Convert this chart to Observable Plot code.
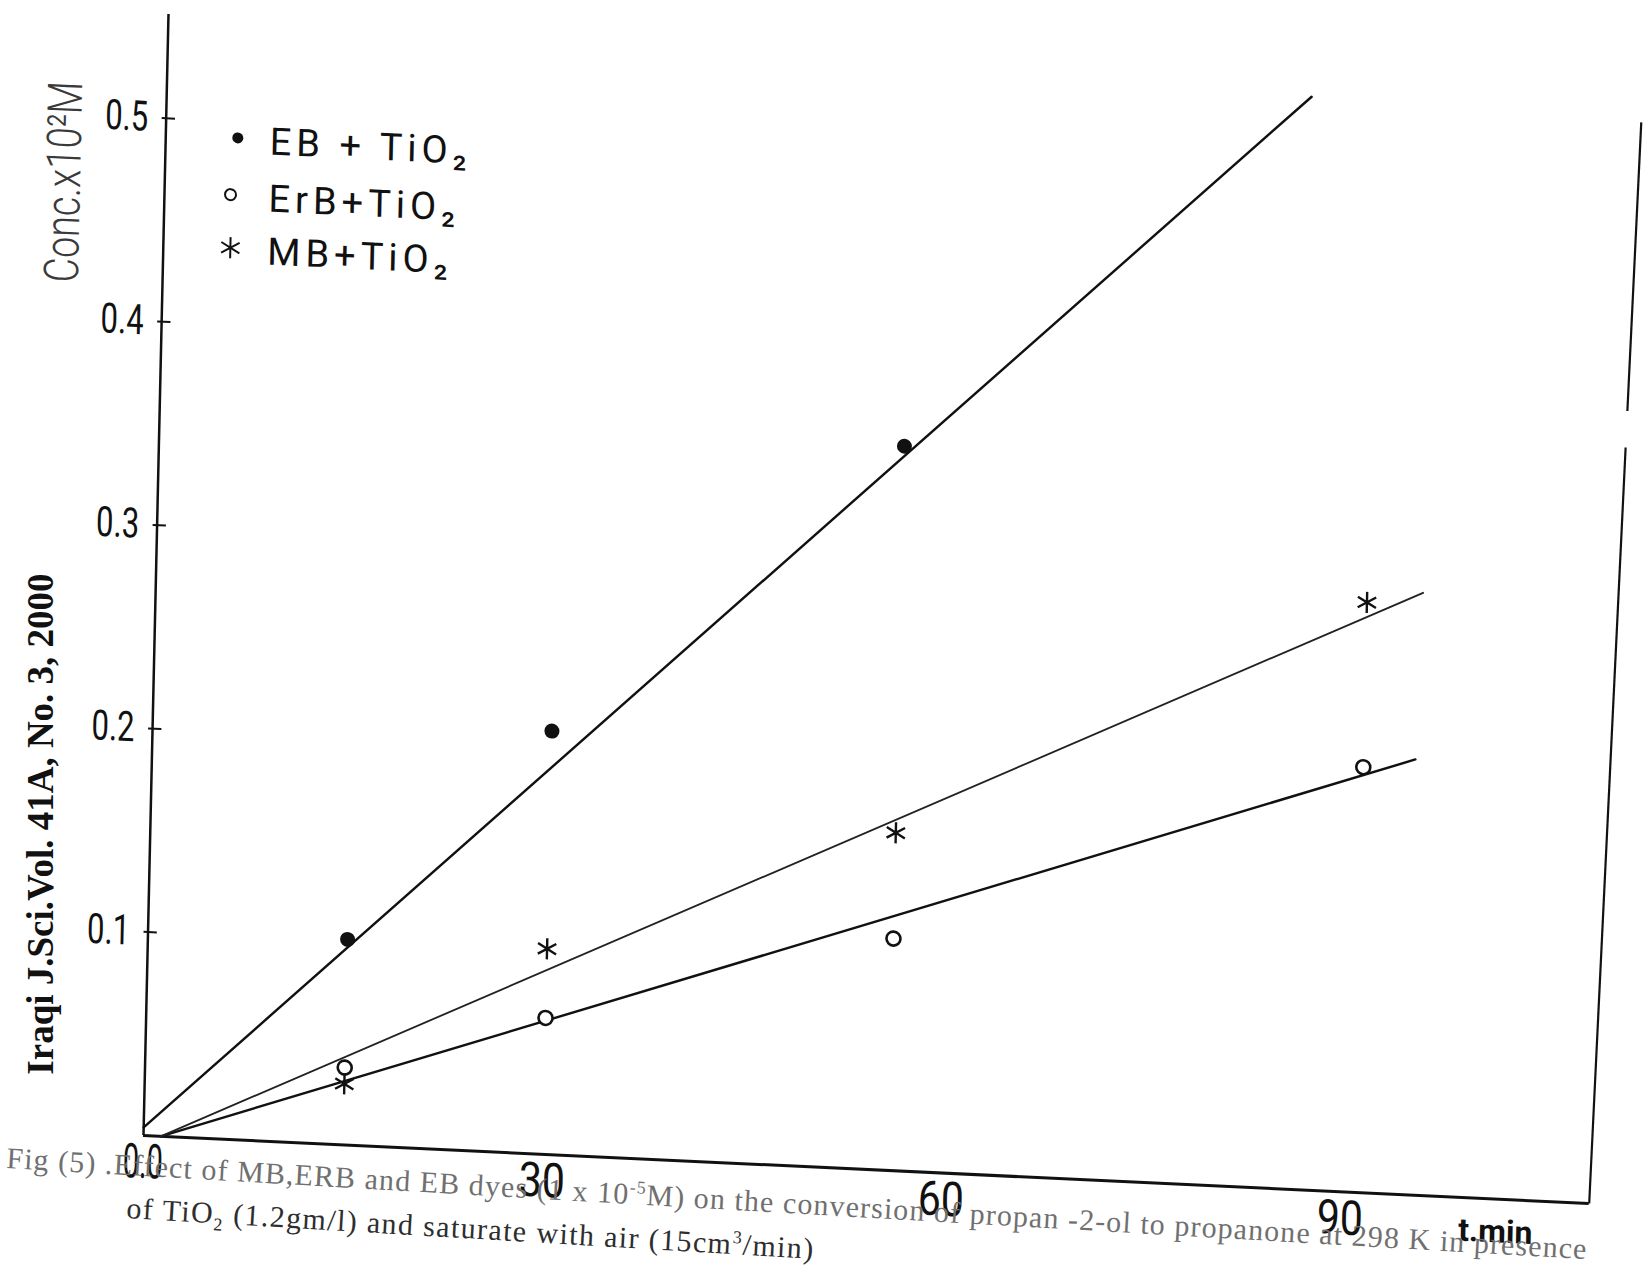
<!DOCTYPE html>
<html>
<head>
<meta charset="utf-8">
<script src="https://cdn.jsdelivr.net/npm/d3@7"></script>
<script src="https://cdn.jsdelivr.net/npm/@observablehq/plot@0.6"></script>
<style>
  html, body { margin: 0; padding: 0; background: #fff; }
  #page { position: relative; width: 1652px; height: 1271px; background: #fff; }
  /* the printed figure sits slightly sheared on the page */
  #chart svg { position: absolute; left: 0; top: 0; transform-origin: 143px 1135px; transform: matrix(1, 0.047, -0.0223, 1, 0, 0); }
  .journal { position: absolute; left: 40px; top: 824px; white-space: nowrap; font: bold 37px "Liberation Serif", "Times New Roman", serif; color: #111; transform: translate(-50%, -50%) rotate(-90deg); }
  .cap { position: absolute; white-space: nowrap; font-family: "Liberation Serif", "Times New Roman", serif; font-size: 30px; line-height: 30px; }
  .cap1 { left: 6px; top: 1143px; color: #707070; letter-spacing: 1.1px; transform-origin: 0 24px; transform: rotate(3.3deg); }
  .cap2 { left: 126px; top: 1193px; color: #2e2e2e; letter-spacing: 1.4px; transform-origin: 0 24px; transform: rotate(3.4deg); }
  .cap sup, .cap sub { font-size: 60%; line-height: 0; }
</style>
</head>
<body>
<div id="page">
  <div id="chart"></div>
  <div class="journal">Iraqi J.Sci.Vol. 41A, No. 3, 2000</div>
  <div class="cap cap1">Fig (5) .Effect of MB,ERB and EB dyes (1 x 10<sup>-5</sup>M) on the conversion of propan -2-ol to propanone at 298 K in presence</div>
  <div class="cap cap2">of TiO<sub>2</sub> (1.2gm/l) and saturate with air (15cm<sup>3</sup>/min)</div>
</div>
<script>
// sampling times (min)
const tMin = [15, 30, 56, 91];
// concentration x10^2 M
const ebConc = [0.101, 0.208, 0.356];
const erbConc = [0.038, 0.067, 0.114, 0.209];
const mbConc = [0.030, 0.101, 0.166, 0.290];
// straight lines drawn through each series: [t, conc] end points
const ebFit = [[0, 0.004], [86, 0.537]];
const erbFit = [[1.3, 0], [94.9, 0.214]];
const mbFit = [[1.3, 0], [95.2, 0.296]];
// axes
const yTicks = [0.1, 0.2, 0.3, 0.4, 0.5];
const xTicks = [0, 30, 60, 90];
const xTickLabels = ["0.0", "30", "60", "90"];
const yTitle = "Conc.x10²M";
const xTitle = "t.min";
const seriesNames = ["EB + TiO₂", "ErB+TiO₂", "MB+TiO₂"];
// right-hand frame edge, drawn in two pieces
const frameEdge = [
  [[108.7, 0], [110.17, 0.372]],
  [[110.24, 0.390], [110.8, 0.532]]
];

const pts = (vals) => vals.map((c, i) => ({t: tMin[i], c}));
const fitRows = (f) => f.map(([t, c]) => ({t, c}));

const FONT = "Roboto, 'DejaVu Sans', sans-serif";
const legendRows = [118, 175, 228];

const marks = [
  // axes
  Plot.ruleX([0], {y1: 0, y2: 0.551, stroke: "#111", strokeWidth: 2.5}),
  Plot.ruleY([0], {x1: 0, x2: 108.7, stroke: "#111", strokeWidth: 3}),
  Plot.ruleY(yTicks, {x1: -0.3, x2: 0.7, stroke: "#111", strokeWidth: 2}),
  Plot.text(yTicks, {x: 0, y: d => d, text: d => d.toFixed(1), textAnchor: "end", lineAnchor: "middle",
    dx: -18, fontSize: 42, fontWeight: 400, fontFamily: FONT, fill: "#111"}),
  Plot.text(xTicks, {x: d => d, y: 0, text: (d, i) => xTickLabels[i], textAnchor: "middle", lineAnchor: "middle",
    dy: 27, fontSize: 48, fontWeight: 400, fontFamily: FONT, fill: "#111"}),
  Plot.text([xTitle], {x: 101.7, y: 0, dy: 33, textAnchor: "middle", lineAnchor: "middle",
    fontSize: 32, fontWeight: "bold", fontFamily: FONT, fill: "#111"}),
  Plot.text([yTitle], {frameAnchor: "top-left", dx: -100, dy: 170, rotate: -90, textAnchor: "middle", lineAnchor: "middle",
    fontSize: 48, fontWeight: 300, fontFamily: FONT, fill: "#3a3a3a"}),
  // frame edge
  ...frameEdge.map(([a, b]) => Plot.link([{a, b}], {x1: d => d.a[0], y1: d => d.a[1], x2: d => d.b[0], y2: d => d.b[1],
    stroke: "#111", strokeWidth: 2.2})),
  // fitted lines
  Plot.line(fitRows(ebFit), {x: "t", y: "c", stroke: "#111", strokeWidth: 2.4}),
  Plot.line(fitRows(erbFit), {x: "t", y: "c", stroke: "#111", strokeWidth: 2.4}),
  Plot.line(fitRows(mbFit), {x: "t", y: "c", stroke: "#222", strokeWidth: 1.8}),
  // measured points
  Plot.dot(pts(ebConc), {x: "t", y: "c", r: 7.5, fill: "#111"}),
  Plot.dot(pts(erbConc), {x: "t", y: "c", r: 7, fill: "white", stroke: "#111", strokeWidth: 2.6}),
  Plot.dot(pts(mbConc), {x: "t", y: "c", r: 10, symbol: "asterisk", stroke: "#111", strokeWidth: 2.4}),
  // key
  Plot.dot([0], {frameAnchor: "top-left", dx: 72, dy: legendRows[0], r: 5.5, fill: "#111"}),
  Plot.dot([0], {frameAnchor: "top-left", dx: 66, dy: legendRows[1], r: 5.5, fill: "white", stroke: "#111", strokeWidth: 2}),
  Plot.dot([0], {frameAnchor: "top-left", dx: 67, dy: legendRows[2], r: 10, symbol: "asterisk", stroke: "#111", strokeWidth: 2}),
  ...seriesNames.map((name, i) => Plot.text([name], {frameAnchor: "top-left", dx: 104, dy: legendRows[i] + 3,
    textAnchor: "start", lineAnchor: "middle", fontSize: 38, fontWeight: 400, fontFamily: FONT, fill: "#111"}))
];

const chart = Plot.plot({
  width: 1652,
  height: 1271,
  marginLeft: 143,
  marginRight: 46,
  marginTop: 16,
  marginBottom: 136,
  x: {domain: [0, 110], axis: null},
  y: {domain: [0, 0.55], axis: null},
  style: {overflow: "visible", maxWidth: "none", background: "transparent"},
  marks
});

// condensed lettering for axis numbers and the axis title; spaced lettering in the key
const svg = d3.select(chart);
const squeeze = (el, len) => d3.select(el).attr("textLength", len).attr("lengthAdjust", "spacingAndGlyphs");
svg.selectAll("text").each(function () {
  const s = this.textContent;
  if (s === yTitle) squeeze(this, 201);
  else if (s === "0.0") squeeze(this, 40);
  else if (yTicks.some(v => v.toFixed(1) === s)) squeeze(this, 43);
  else if (xTickLabels.includes(s)) squeeze(this, 46);
  else if (seriesNames.includes(s)) d3.select(this).attr("letter-spacing", 5);
});

document.getElementById("chart").appendChild(chart);
</script>
</body>
</html>
